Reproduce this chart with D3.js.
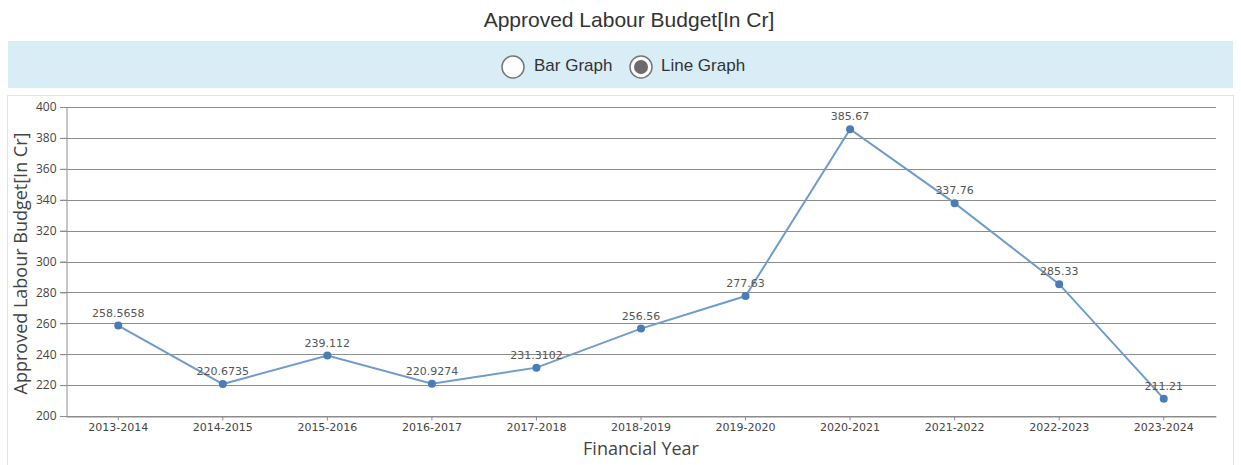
<!DOCTYPE html>
<html>
<head>
<meta charset="utf-8">
<script src="https://cdn.jsdelivr.net/npm/d3@7"></script>
<style>
  body { margin: 0; background: #fff; font-family: "Liberation Sans", Arial, sans-serif; }
  svg text { font-family: "Open Sans", "DejaVu Sans", sans-serif; }
</style>
</head>
<body>
<svg id="chart" width="1241" height="465"></svg>
<script>
// Chart data
var years = ["2013-2014", "2014-2015", "2015-2016", "2016-2017", "2017-2018", "2018-2019",
  "2019-2020", "2020-2021", "2021-2022", "2022-2023", "2023-2024"];
var budget = [258.5658, 220.6735, 239.112, 220.9274, 231.3102, 256.56, 277.63, 385.67, 337.76, 285.33, 211.21];
var budgetLabels = ["258.5658", "220.6735", "239.112", "220.9274", "231.3102", "256.56", "277.63", "385.67", "337.76", "285.33", "211.21"];
var yTicks = [200, 220, 240, 260, 280, 300, 320, 340, 360, 380, 400];

const svg = d3.select("#chart");

// Title
svg.append("text")
  .attr("x", 629)
  .attr("y", 27)
  .attr("text-anchor", "middle")
  .style("font-family", "'Liberation Sans', Arial, sans-serif")
  .style("font-size", "21px")
  .style("fill", "#333")
  .text("Approved Labour Budget[In Cr]");

// Radio band
svg.append("rect")
  .attr("x", 8).attr("y", 41)
  .attr("width", 1225).attr("height", 47)
  .attr("fill", "#d9edf7");

var radios = [
  { label: "Bar Graph", cx: 513, tx: 534, checked: false },
  { label: "Line Graph", cx: 641, tx: 661, checked: true }
];
radios.forEach(function (r) {
  svg.append("circle")
    .attr("cx", r.cx).attr("cy", 67).attr("r", 11)
    .attr("fill", "#fff")
    .attr("stroke", "#767676")
    .attr("stroke-width", 1.5);
  if (r.checked) {
    svg.append("circle")
      .attr("cx", r.cx).attr("cy", 67).attr("r", 7)
      .attr("fill", "#6b6b6b");
  }
  svg.append("text")
    .attr("x", r.tx).attr("y", 67)
    .attr("dominant-baseline", "middle")
    .style("font-family", "'Liberation Sans', Arial, sans-serif")
    .style("font-size", "17px")
    .style("fill", "#333")
    .text(r.label);
});

// Chart panel
svg.append("rect")
  .attr("x", 7.5).attr("y", 95.5)
  .attr("width", 1226).attr("height", 380)
  .attr("fill", "#fff")
  .attr("stroke", "#e3e3e3");

const margin = { left: 66, top: 107, right: 1216, bottom: 416 };

const xScale = d3.scaleBand()
  .domain(years)
  .range([margin.left, margin.right]);

const yScale = d3.scaleLinear()
  .domain([200, 400])
  .range([margin.bottom, margin.top]);

// Gridlines
svg.append("g")
  .selectAll("line")
  .data(yTicks)
  .enter()
  .append("line")
  .attr("x1", margin.left - 6)
  .attr("x2", margin.right)
  .attr("y1", d => Math.round(yScale(d)) + 0.5)
  .attr("y2", d => Math.round(yScale(d)) + 0.5)
  .attr("stroke", "#8c8c8c")
  .attr("stroke-width", 1);

// Y axis
const yAxis = svg.append("g")
  .attr("transform", `translate(${margin.left + 0.5},0)`)
  .call(d3.axisLeft(yScale).tickValues(yTicks).tickSize(6).tickSizeOuter(0));
yAxis.select(".domain").attr("stroke", "#8c8c8c");
yAxis.selectAll(".tick line").attr("stroke", "#8c8c8c");
yAxis.selectAll(".tick text")
  .attr("x", -10)
  .style("font-size", "12px")
  .style("fill", "#444");

// X axis
const xAxis = svg.append("g")
  .attr("transform", `translate(0,${Math.round(yScale(200)) + 0.5})`)
  .call(d3.axisBottom(xScale).tickSize(4).tickSizeOuter(0));
xAxis.select(".domain").attr("stroke", "#8c8c8c");
xAxis.selectAll(".tick line").attr("stroke", "#8c8c8c");
xAxis.selectAll(".tick text")
  .attr("y", 7)
  .style("font-family", "'DejaVu Sans', sans-serif")
  .style("font-size", "11px")
  .style("fill", "#444");

// Axis titles
svg.append("text")
  .attr("transform", `translate(27,${(margin.top + margin.bottom) / 2 + 2}) rotate(-90)`)
  .attr("text-anchor", "middle")
  .style("font-size", "18px")
  .style("fill", "#444")
  .text("Approved Labour Budget[In Cr]");

svg.append("text")
  .attr("x", (margin.left + margin.right) / 2)
  .attr("y", 455)
  .attr("text-anchor", "middle")
  .style("font-size", "18px")
  .style("fill", "#444")
  .text("Financial Year");

// Line
const cx = d => xScale(d) + xScale.bandwidth() / 2;
const line = d3.line()
  .x((d, i) => cx(years[i]))
  .y(d => yScale(d));

svg.append("path")
  .attr("fill", "none")
  .attr("stroke", "#6f9ccb")
  .attr("stroke-width", 2)
  .attr("d", line(budget));

svg.append("g")
  .selectAll("circle")
  .data(budget)
  .enter()
  .append("circle")
  .attr("cx", (d, i) => cx(years[i]))
  .attr("cy", d => yScale(d))
  .attr("r", 4)
  .attr("fill", "#4a7db4");

svg.append("g")
  .selectAll("text")
  .data(budget)
  .enter()
  .append("text")
  .attr("x", (d, i) => cx(years[i]))
  .attr("y", d => yScale(d) - 9)
  .attr("text-anchor", "middle")
  .style("font-family", "'DejaVu Sans', sans-serif")
  .style("font-size", "11px")
  .style("fill", "#555")
  .text((d, i) => budgetLabels[i]);
</script>
</body>
</html>
